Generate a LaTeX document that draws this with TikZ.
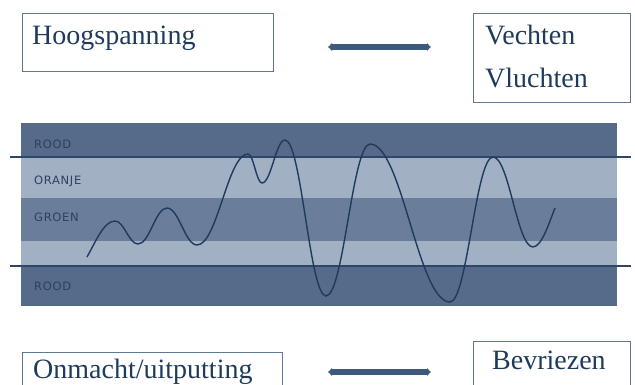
\documentclass[tikz,border=0pt]{standalone}
\usepackage{fontspec}
\setmainfont{Liberation Serif}
\newfontfamily\boxfont{Liberation Serif}
\newfontfamily\bandfont[LetterSpace=6]{DejaVu Sans}
\usetikzlibrary{arrows.meta}

\definecolor{bandDark}{RGB}{86,106,138}
\definecolor{bandMid}{RGB}{106,126,156}
\definecolor{bandLight}{RGB}{162,176,196}
\definecolor{limitLine}{RGB}{46,70,104}
\definecolor{waveCol}{RGB}{30,58,92}
\definecolor{arrowCol}{RGB}{61,90,126}
\definecolor{boxLine}{RGB}{94,120,150}
\definecolor{textCol}{RGB}{31,59,92}
\definecolor{bandText}{RGB}{44,64,96}

\tikzset{
  statebox/.style={draw=boxLine, line width=1pt, rectangle, inner sep=0pt},
  statetext/.style={anchor=base west, inner sep=0pt, text=textCol, font=\boxfont\fontsize{28}{31}\selectfont},
  bandlabel/.style={anchor=west, inner sep=0pt, text=bandText, font=\bandfont\fontsize{11.5}{13}\selectfont},
  twoway/.style={draw=arrowCol, line width=5.5pt,
    {Latex[length=4pt,width=9pt]}-{Latex[length=4pt,width=9pt]}},
  limit/.style={draw=limitLine, line width=1.3pt},
}

\begin{document}
\begin{tikzpicture}[x=1pt,y=-1pt]
\useasboundingbox (0,0) rectangle (635,385);
\clip (0,0) rectangle (635,385);

% --- stress bands ---
\fill[bandDark]  (21,123) rectangle (617,157);
\fill[bandLight] (21,157) rectangle (617,198);
\fill[bandMid]   (21,198) rectangle (617,241);
\fill[bandLight] (21,241) rectangle (617,266);
\fill[bandDark]  (21,266) rectangle (617,306);

% limits of the window of tolerance
\coordinate (upL) at (10,157);
\coordinate (upR) at (631,157);
\coordinate (loL) at (10,266);
\coordinate (loR) at (631,266);
\draw[limit] (upL) -- (upR);
\draw[limit] (loL) -- (loR);

\node[bandlabel] (rood1)  at (34,144) {ROOD};
\node[bandlabel] (oranje) at (34,181) {ORANJE};
\node[bandlabel] (groen)  at (34,217) {GROEN};
\node[bandlabel] (rood2)  at (34,286) {ROOD};

% arousal curve
\draw[waveCol, line width=1.4pt]
  (87,257) .. controls (96,241) and (104,221) .. (115,221)
  .. controls (124.2,221) and (128.8,244) .. (138,244)
  .. controls (149.6,244) and (155.4,208) .. (167,208)
  .. controls (179,208) and (185,245) .. (197,245)
  .. controls (217.4,245) and (227.6,154) .. (248,154)
  .. controls (253.6,154) and (256.4,183) .. (262,183)
  .. controls (271.2,183) and (275.8,140) .. (285,140)
  .. controls (301.4,140) and (309.6,296) .. (326,296)
  .. controls (343.6,296) and (352.4,144) .. (370,144)
  .. controls (402,144) and (418,302) .. (450,302)
  .. controls (467.2,302) and (475.8,157) .. (493,157)
  .. controls (509,157) and (517,247) .. (533,247)
  .. controls (542,247) and (550,220) .. (555,208);

% --- state boxes ---
\node[statebox, minimum width=251pt, minimum height=58pt] (hoog) at (147.5,43) {};
\node[statetext] (hoogT) at (32,45) {Hoogspanning};

\node[statebox, minimum width=157pt, minimum height=89pt] (vecht) at (551.5,58.5) {};
\node[statetext] (vechtT) at (485,45) {Vechten};
\node[statetext] (vluchtT) at (485,88) {Vluchten};

\node[statebox, minimum width=260pt, minimum height=60pt] (onm) at (152,382) {};
\node[statetext] (onmT) at (33,378) {Onmacht/uitputting};

\node[statebox, minimum width=157pt, minimum height=60pt] (bevr) at (551.5,371) {};
\node[statetext] (bevrT) at (492,369) {Bevriezen};

% two-way arrows between the states
\coordinate (topA) at (328,47);
\coordinate (topB) at (431,47);
\draw[twoway] (topA) -- (topB);
\coordinate (botA) at (328,372);
\coordinate (botB) at (431,372);
\draw[twoway] (botA) -- (botB);
\end{tikzpicture}
\end{document}
